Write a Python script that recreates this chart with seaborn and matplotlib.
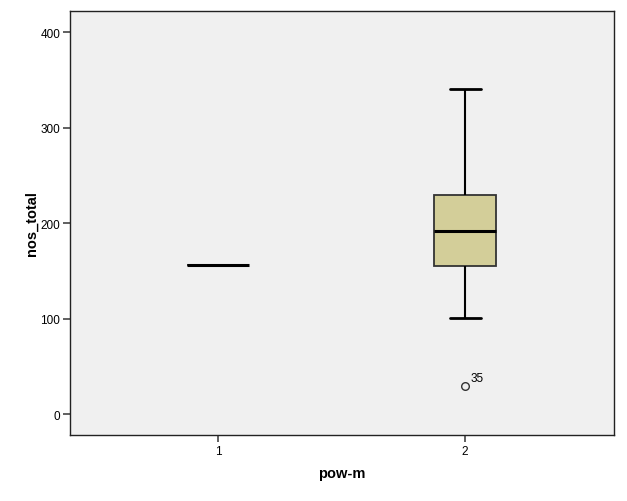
import matplotlib
matplotlib.use("Agg")
import matplotlib.pyplot as plt
import seaborn as sns
import pandas as pd

# data
group_labels = ["1", "2"]
group1_values = [156]
group2_values = [29, 101, 155, 155, 192, 230, 230, 341, 341]
outlier_value = 29
outlier_label = "35"
y_ticks = [0, 100, 200, 300, 400]

df = pd.DataFrame({
    "pow-m": [group_labels[0]] * len(group1_values) + [group_labels[1]] * len(group2_values),
    "nos_total": group1_values + group2_values,
})

sns.set_theme(style="white")
plt.rcParams["font.family"] = ["Liberation Sans", "DejaVu Sans"]

fig = plt.figure(figsize=(6.27, 5.02), dpi=100)
ax = fig.add_axes([70 / 627, 1 - 436 / 502, 544 / 627, 424 / 502])
ax.set_facecolor("#F0F0F0")

sns.boxplot(
    data=df, x="pow-m", y="nos_total", order=group_labels, ax=ax,
    width=0.25, color="#D3CE99", saturation=1, whis=1.5,
    linewidth=1.3, linecolor="black",
    boxprops=dict(edgecolor="#333333", linewidth=1.3),
    medianprops=dict(color="black", linewidth=2.2),
    whiskerprops=dict(color="black", linewidth=1.5),
    capprops=dict(color="black", linewidth=2.0),
    capwidths=0.125,
    flierprops=dict(marker="o", markersize=5.5, markerfacecolor="none",
                    markeredgecolor="#333333", markeredgewidth=1.0),
)

ax.annotate(outlier_label, xy=(1, outlier_value), xytext=(4, 4),
            textcoords="offset points", fontsize=8.5, color="black")

ax.set_xlim(-0.6, 1.603)
ax.set_ylim(-22, 422.5)
ax.set_yticks(y_ticks)
ax.set_yticklabels([str(v) for v in y_ticks])

for s in ax.spines.values():
    s.set_visible(True)
    s.set_color("#222222")
    s.set_linewidth(1.0)

ax.tick_params(axis="both", which="both", direction="out", length=5, width=1.2,
               color="#444444", labelsize=8.5, labelcolor="black",
               left=True, bottom=True, pad=2)

ax.set_xlabel("pow-m", fontsize=10.5, fontweight="bold", labelpad=7, color="black")
ax.set_ylabel("nos_total", fontsize=10.5, fontweight="bold", labelpad=1, color="black")

fig.savefig("out.png", dpi=100, facecolor="white")
